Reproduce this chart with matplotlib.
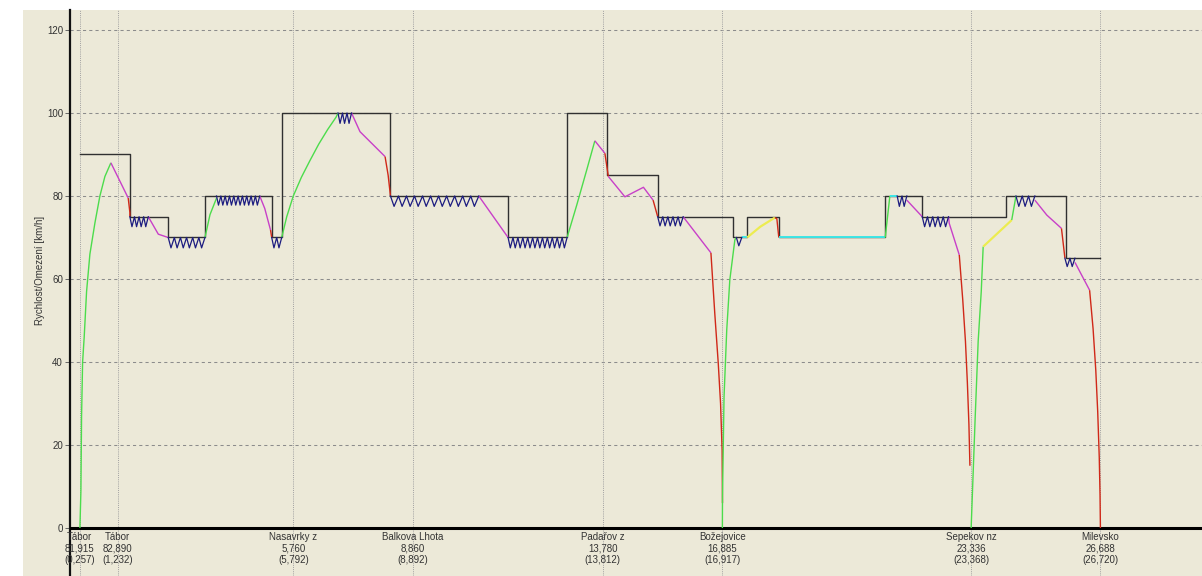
import matplotlib
matplotlib.use("Agg")
import matplotlib.pyplot as plt
from matplotlib.patches import Rectangle

plt.rcParams['font.family'] = ['Liberation Sans', 'DejaVu Sans']

# ---------------- data ----------------
station_names = ["Tábor", "Tábor", "Nasavrky z", "Balkova Lhota", "Padařov z",
                 "Božejovice", "Sepekov nz", "Milevsko"]
station_line_km = ["81,915", "82,890", "5,760", "8,860", "13,780", "16,885", "23,336", "26,688"]
station_run_km_txt = ["(0,257)", "(1,232)", "(5,792)", "(8,892)", "(13,812)", "(16,917)",
                      "(23,368)", "(26,720)"]
station_km = [0.257, 1.232, 5.792, 8.892, 13.812, 16.917, 23.368, 26.720]

limit_km = [0.257, 1.553, 2.547, 3.50, 5.23, 5.49, 8.31, 11.36, 12.89, 13.93, 15.24,
            17.20, 17.56, 18.38, 21.14, 22.10, 24.26, 25.82, 26.72]
limit_kmh = [90, 75, 70, 80, 70, 100, 80, 70, 100, 85, 75, 70, 75, 70, 80, 75, 80, 65, 65]

# speed segments: (mode, km list, speed list)
green_1_km = [0.257, 0.283, 0.30, 0.327, 0.368, 0.43, 0.516, 0.646, 0.775, 0.905, 1.06]
green_1_v = [0, 9, 27, 40, 46, 57, 66, 73.5, 80, 84.7, 88]
speed_segments = [
    ("accel", green_1_km, green_1_v),
    ("coast", [1.06, 1.51], [88, 79.5]),
    ("brake", [1.51, 1.553, 1.553], [79.5, 76, 75]),
    ("coast", [2.03, 2.29, 2.547], [75, 70.8, 70]),
    ("accel", [3.50, 3.63, 3.80], [70, 75.5, 79.5]),
    ("coast", [4.92, 5.05, 5.20], [80, 77, 71.8]),
    ("brake", [5.20, 5.23], [71.8, 70]),
    ("accel", [5.49, 5.62, 5.79, 6.0, 6.22, 6.45, 6.68, 6.90, 6.95],
              [70, 75, 80, 84.5, 88.5, 92.5, 96, 99, 100]),
    ("coast", [7.30, 7.52, 8.17], [100, 95.5, 89.5]),
    ("brake", [8.17, 8.25, 8.31], [89.5, 85, 80]),
    ("coast", [10.60, 11.36], [80, 70]),
    ("accel", [12.89, 13.14, 13.40, 13.61], [70, 77.8, 86.3, 93.3]),
    ("coast", [13.61, 13.87], [93.3, 90.3]),
    ("brake", [13.87, 13.96], [90.3, 84.7]),
    ("coast", [13.96, 14.39, 14.87, 15.12], [84.7, 79.8, 82.1, 79]),
    ("brake", [15.12, 15.24], [79, 75]),
    ("coast", [15.90, 16.62], [75, 66.3]),
    ("brake", [16.62, 16.72, 16.81, 16.87, 16.91, 16.92], [66.3, 51.7, 39.7, 30, 18.8, 6]),
    ("accel", [16.917, 16.92, 16.96, 17.03, 17.11, 17.24, 17.28], [0, 7.5, 31.6, 47.7, 59.8, 69.4, 70]),
    ("hold", [17.42, 17.56], [70, 70]),
    ("yellow", [17.56, 17.90, 18.28], [70, 72.6, 74.8]),
    ("brake", [18.28, 18.33, 18.38], [74.8, 74.5, 70]),
    ("hold", [18.38, 21.14], [70, 70]),
    ("accel", [21.14, 21.26], [70, 80]),
    ("hold", [21.26, 21.45], [80, 80]),
    ("coast", [21.70, 22.10], [79, 75]),
    ("coast", [22.78, 22.80, 23.06], [75, 73.4, 65.8]),
    ("brake", [23.06, 23.15, 23.22, 23.27, 23.31, 23.336], [65.8, 55, 45, 35, 25, 15]),
    ("accel", [23.368, 23.47, 23.55, 23.63, 23.68], [0, 26, 45, 57, 67.8]),
    ("yellow", [23.68, 24.42], [67.8, 74.2]),
    ("accel", [24.42, 24.53], [74.2, 80]),
    ("coast", [25.02, 25.33, 25.71], [79, 75.4, 72.2]),
    ("brake", [25.71, 25.80], [72.2, 65]),
    ("coast", [26.06, 26.44], [64, 57.3]),
    ("brake", [26.44, 26.53, 26.60, 26.65, 26.69, 26.71, 26.72], [57.3, 48, 38, 28, 17, 8, 0]),
]

# regulated (sawtooth) sections: start km, end km, top, bottom, tooth count
reg_start = [1.553, 2.547, 3.80, 5.23, 6.95, 8.31, 11.36, 15.24, 17.28, 21.45, 22.10, 24.53, 25.80]
reg_end = [2.03, 3.50, 4.92, 5.49, 7.30, 10.60, 12.89, 15.90, 17.42, 21.70, 22.78, 25.02, 26.06]
reg_top = [75, 70, 80, 70, 100, 80, 70, 75, 70, 80, 75, 80, 65]
reg_bottom = [72.6, 67.5, 77.8, 67.5, 97.5, 77.5, 67.5, 72.8, 68, 77.5, 72.6, 77.5, 63]
reg_teeth = [4, 6, 10, 2, 3, 11, 12, 5, 1, 2, 5, 3, 2]

mode_colors = {"accel": "#4cdc4c", "coast": "#c840c8", "brake": "#d02818",
               "hold": "#3ee6e6", "yellow": "#ecec50", "reg": "#1c1c80"}
mode_widths = {"accel": 1.0, "coast": 1.0, "brake": 1.0, "hold": 1.4, "yellow": 1.6}

# ---------------- layout ----------------
W, H = 1202, 576
fig = plt.figure(figsize=(W / 100, H / 100), dpi=100)
fig.patch.set_facecolor("white")
bg = Rectangle((23 / W, 0), 1 - 23 / W, (H - 10) / H, transform=fig.transFigure,
               facecolor="#ECE9D8", edgecolor="none", zorder=-10)
fig.add_artist(bg)

ax = fig.add_axes([70 / W, 0, 1 - 70 / W, (H - 10) / H])
ax.set_zorder(1)
ax.patch.set_alpha(0)
px_per_km = 38.56
px_per_kmh = 4.15
x0_px = 70.1
ax.set_xlim(0, (W - x0_px) / px_per_km)
ax.set_ylim((528 - 576) / px_per_kmh, (528 - 10) / px_per_kmh)

for s in ["top", "right", "bottom"]:
    ax.spines[s].set_visible(False)
ax.spines["left"].set_linewidth(1.6)
ax.spines["left"].set_color("#111111")

ax.set_xticks([])
yt = [0, 20, 40, 60, 80, 100, 120]
ax.set_yticks(yt)
ax.set_yticklabels([str(v) for v in yt], fontsize=7, color="#333333")
ax.tick_params(axis="y", length=3.5, width=0.7, color="#666666", pad=1.5)

# grid
for v in yt[1:]:
    ax.axhline(v, color="#8c8c8c", lw=0.75, ls=(0, (3, 3)), zorder=1)
for k in station_km:
    ax.axvline(k, color="#a0a0a0", lw=0.7, ls=(0, (1, 1.2)), zorder=1)
ax.axhline(0, color="black", lw=2.2, zorder=3)

# speed limit
ax.plot(limit_km, limit_kmh, drawstyle="steps-post", color="#303030", lw=1.0, zorder=4)

# speed
for mode, kms, vs in speed_segments:
    ax.plot(kms, vs, color=mode_colors[mode], lw=mode_widths[mode], zorder=5,
            solid_capstyle="butt")

for a, b, top, bot, n in zip(reg_start, reg_end, reg_top, reg_bottom, reg_teeth):
    p = (b - a) / n
    xs, ys = [a], [top]
    for i in range(n):
        xs += [a + i * p + 0.45 * p, a + (i + 1) * p]
        ys += [bot, top]
    ax.plot(xs, ys, color=mode_colors["reg"], lw=0.9, zorder=5)

# station labels
for name, lk, rk, k in zip(station_names, station_line_km, station_run_km_txt, station_km):
    ax.text(k, (528 - 532) / px_per_kmh, f"{name}\n{lk}\n{rk}", ha="center", va="top",
            fontsize=7, color="#333333", linespacing=1.17, zorder=6)

ax.text((40 - x0_px) / px_per_km, 62, "Rychlost/Omezení [km/h]", rotation=90,
        ha="center", va="center", fontsize=7, color="#333333")

fig.savefig("out.png", dpi=100, facecolor=fig.get_facecolor())
